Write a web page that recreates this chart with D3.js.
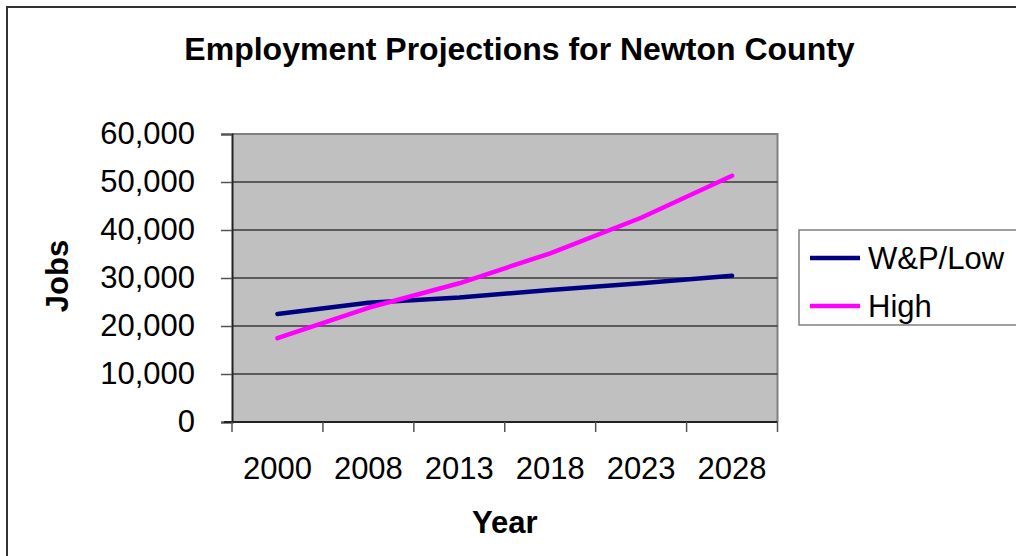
<!DOCTYPE html>
<html>
<head>
<meta charset="utf-8">
<script src="https://cdn.jsdelivr.net/npm/d3@7/dist/d3.min.js"></script>
<style>
  html, body { margin: 0; padding: 0; background: #fff; }
  svg { display: block; font-family: Arial, "Liberation Sans", sans-serif; }
</style>
</head>
<body>
<svg id="chart" width="1016" height="556"></svg>
<script>
// Employment projections, jobs by year
const years = ["2000", "2008", "2013", "2018", "2023", "2028"];
const lowSeries = [22500, 24850, 25950, 27500, 28900, 30450];
const highSeries = [17450, 23800, 28900, 35150, 42550, 51300];
const seriesNames = ["W&P/Low", "High"];
const seriesColors = ["#000080", "#ff00ff"];
const yTicks = [0, 10000, 20000, 30000, 40000, 50000, 60000];

const svg = d3.select("#chart");

// outer chart frame (right and bottom edges run past the canvas)
svg.append("rect")
  .attr("x", 7).attr("y", 7)
  .attr("width", 1040).attr("height", 580)
  .attr("fill", "none").attr("stroke", "#333").attr("stroke-width", 2);

const plot = { left: 232, top: 134, right: 777.5, bottom: 422 };

const x = d3.scaleBand().domain(years).range([plot.left, plot.right]);
const y = d3.scaleLinear().domain([0, 60000]).range([plot.bottom, plot.top]);

// plot background
svg.append("rect")
  .attr("x", plot.left).attr("y", plot.top)
  .attr("width", plot.right - plot.left).attr("height", plot.bottom - plot.top)
  .attr("fill", "#c0c0c0");

// plot border on top / right
svg.append("path")
  .attr("d", `M${plot.left},${plot.top}H${plot.right}V${plot.bottom}`)
  .attr("fill", "none").attr("stroke", "#808080").attr("stroke-width", 2);

// horizontal gridlines
svg.append("g").selectAll("line")
  .data(yTicks.filter(v => v > 0 && v < 60000))
  .join("line")
  .attr("x1", plot.left).attr("x2", plot.right)
  .attr("y1", d => y(d)).attr("y2", d => y(d))
  .attr("stroke", "#3a3a3a").attr("stroke-width", 1.3);

// y axis
const yAxis = svg.append("g")
  .attr("transform", `translate(${plot.left},0)`)
  .call(d3.axisLeft(y).tickValues(yTicks).tickSize(11).tickPadding(26)
    .tickFormat(d3.format(",")));
yAxis.select(".domain").attr("stroke", "#222").attr("stroke-width", 2);
yAxis.selectAll(".tick line").attr("stroke", "#555").attr("stroke-width", 1.5);
yAxis.selectAll(".tick text")
  .attr("font-size", 31).attr("fill", "#000")
  .attr("font-family", "Arial, 'Liberation Sans', sans-serif");

// x axis: ticks on band edges, labels at band centres
const xAxisG = svg.append("g").attr("transform", `translate(0,${plot.bottom})`);
xAxisG.append("line")
  .attr("x1", plot.left - 8).attr("x2", plot.right)
  .attr("stroke", "#222").attr("stroke-width", 2);
const edges = years.map(d => x(d)).concat([x(years[years.length - 1]) + x.bandwidth()]);
xAxisG.selectAll("line.tk").data(edges).join("line")
  .attr("class", "tk")
  .attr("x1", d => d).attr("x2", d => d)
  .attr("y1", 0).attr("y2", 10)
  .attr("stroke", "#555").attr("stroke-width", 1.5);
xAxisG.selectAll("text").data(years).join("text")
  .attr("x", d => x(d) + x.bandwidth() / 2)
  .attr("y", 57)
  .attr("text-anchor", "middle")
  .attr("font-size", 31)
  .text(d => d);

// series lines
const line = d3.line()
  .x((d, i) => x(years[i]) + x.bandwidth() / 2)
  .y(d => y(d));

[lowSeries, highSeries].forEach((s, i) => {
  svg.append("path")
    .datum(s)
    .attr("d", line)
    .attr("fill", "none")
    .attr("stroke", seriesColors[i])
    .attr("stroke-width", 4.5)
    .attr("stroke-linejoin", "round")
    .attr("stroke-linecap", "round");
});

// title
svg.append("text")
  .attr("x", 519.5).attr("y", 60)
  .attr("text-anchor", "middle")
  .attr("font-size", 32).attr("font-weight", "bold")
  .text("Employment Projections for Newton County");

// axis titles
svg.append("text")
  .attr("x", (plot.left + plot.right) / 2).attr("y", 533)
  .attr("text-anchor", "middle")
  .attr("font-size", 31).attr("font-weight", "bold")
  .text("Year");

svg.append("text")
  .attr("transform", "translate(68,276) rotate(-90)")
  .attr("text-anchor", "middle")
  .attr("font-size", 31).attr("font-weight", "bold")
  .text("Jobs");

// legend
const legend = svg.append("g");
legend.append("rect")
  .attr("x", 799).attr("y", 230)
  .attr("width", 260).attr("height", 95)
  .attr("fill", "#fff").attr("stroke", "#808080").attr("stroke-width", 1.5);
const legendRows = legend.selectAll("g.row").data(seriesNames).join("g")
  .attr("class", "row")
  .attr("transform", (d, i) => `translate(0,${258 + i * 48})`);
legendRows.append("line")
  .attr("x1", 810).attr("x2", 860)
  .attr("stroke", (d, i) => seriesColors[i]).attr("stroke-width", 4.5);
legendRows.append("text")
  .attr("x", 868).attr("y", 11)
  .attr("font-size", 31)
  .text(d => d);
</script>
</body>
</html>
